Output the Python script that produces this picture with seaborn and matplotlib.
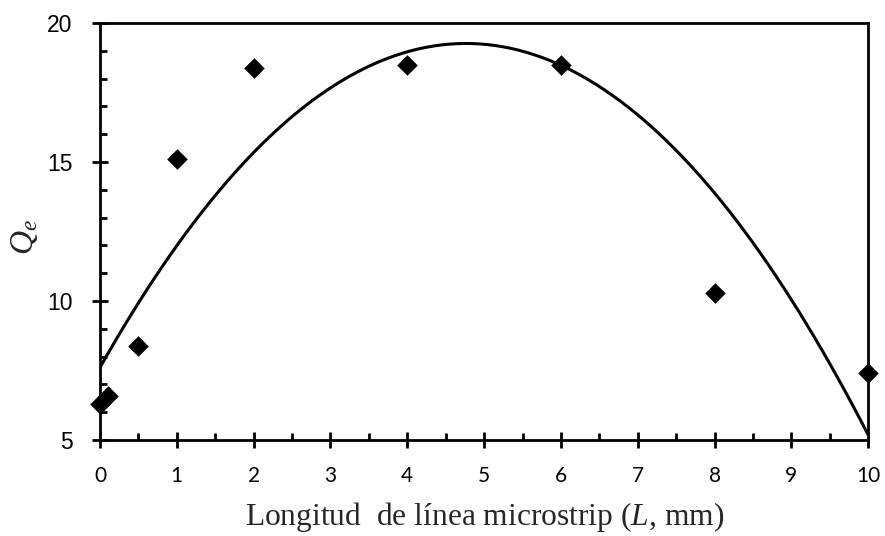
import numpy as np
import pandas as pd
import matplotlib
matplotlib.use('Agg')
import matplotlib.pyplot as plt
import seaborn as sns
from matplotlib.ticker import MultipleLocator

# longitud de linea microstrip (mm) vs factor de calidad externo
longitud = [0, 0.1, 0.5, 1, 2, 4, 6, 8, 10]
qe = [6.3, 6.6, 8.4, 15.1, 18.4, 18.5, 18.5, 10.3, 7.4]

df = pd.DataFrame({'L': longitud, 'Qe': qe})

sns.set_style("ticks")
plt.rcParams['font.family'] = ['Liberation Sans', 'DejaVu Sans']
plt.rcParams['mathtext.fontset'] = 'custom'
plt.rcParams['mathtext.rm'] = 'Liberation Serif'
plt.rcParams['mathtext.it'] = 'Liberation Serif:italic'

fig = plt.figure(figsize=(8.85, 5.36), dpi=100)
ax = fig.add_axes([0.113, 0.179, 0.868, 0.778])

# ajuste polinomico de orden 2 (linea de tendencia)
sns.regplot(data=df, x='L', y='Qe', order=2, ci=None, ax=ax,
            marker='D', color='black',
            scatter_kws={'s': 110, 'linewidths': 0, 'zorder': 3, 'clip_on': False, 'alpha': 1},
            line_kws={'color': 'black', 'linewidth': 2.2, 'zorder': 2})

ax.set_xlim(0, 10)
ax.set_ylim(5, 20)
ax.xaxis.set_major_locator(MultipleLocator(1))
ax.xaxis.set_minor_locator(MultipleLocator(0.5))
ax.yaxis.set_major_locator(MultipleLocator(5))
ax.yaxis.set_minor_locator(MultipleLocator(1))

for s in ax.spines.values():
    s.set_linewidth(2.0)
    s.set_color('black')

ax.tick_params(which='major', direction='inout', length=11.5, width=2.0, colors='black')
ax.tick_params(which='minor', direction='in', length=5, width=2.0, colors='black')
ax.tick_params(axis='y', which='major', labelsize=16.5, pad=14)
ax.tick_params(axis='x', which='major', labelsize=15, pad=13)
for lab in ax.get_xticklabels():
    lab.set_family(['Lato', 'DejaVu Sans'])

ax.set_xlabel('Longitud  de línea microstrip ($\\mathit{L}$, mm)', family='Liberation Serif', fontsize=22.7, labelpad=10)
ax.set_ylabel('$Q_e$', fontsize=24)
ax.yaxis.set_label_coords(-0.078, 0.487)

fig.savefig('out.png', dpi=100)
